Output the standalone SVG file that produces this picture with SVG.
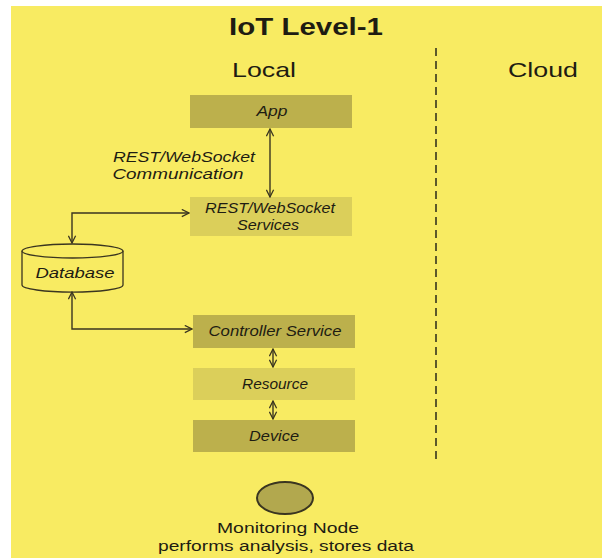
<svg xmlns="http://www.w3.org/2000/svg" width="602" height="558" viewBox="0 0 602 558">
<defs>
<marker id="ah" viewBox="0 0 10 10" refX="9" refY="5" markerWidth="9" markerHeight="9" markerUnits="userSpaceOnUse" orient="auto-start-reverse">
<path d="M1,1 L9,5 L1,9" fill="none" stroke="#3a3520" stroke-width="1.4"/>
</marker>
</defs>
<style>
.t{font-family:"Liberation Sans",Arial,sans-serif;fill:#1e1c12;}
.h{font-weight:bold;font-size:23px;text-anchor:middle;}
.s{font-size:21px;text-anchor:middle;}
.i{font-style:italic;font-size:15px;text-anchor:middle;}
.b{font-size:15.5px;text-anchor:middle;}
.dk{fill:#bcb04c;}
.lt{fill:#dbcf5a;}
.c{fill:none;stroke:#3a3520;stroke-width:1.4;}
</style>
<rect x="0" y="0" width="602" height="558" fill="#ffffff"/>
<rect x="11" y="6" width="591" height="552" fill="#f8eb62"/>
<text class="t h" x="306" y="35" textLength="154" lengthAdjust="spacingAndGlyphs">IoT Level-1</text>
<text class="t s" x="264" y="77" textLength="64" lengthAdjust="spacingAndGlyphs">Local</text>
<text class="t s" x="543" y="77" textLength="70" lengthAdjust="spacingAndGlyphs">Cloud</text>
<line x1="436" y1="48" x2="436" y2="460" stroke="#2a2a1a" stroke-width="1.5" stroke-dasharray="8,5"/>
<g id="app"><rect class="dk" x="190" y="95" width="162" height="33"/><text class="t i" x="272" y="116" textLength="31" lengthAdjust="spacingAndGlyphs">App</text></g>
<g id="services"><rect class="lt" x="190" y="197" width="162" height="39"/><text class="t i" x="270" y="213" textLength="130" lengthAdjust="spacingAndGlyphs">REST/WebSocket</text><text class="t i" x="268" y="230" textLength="62" lengthAdjust="spacingAndGlyphs">Services</text></g>
<g id="database">
<path d="M22,251 L22,285 A50,7 0 0 0 123,285 L123,251" fill="#f8eb62" stroke="#3a3520" stroke-width="1.3"/>
<ellipse cx="72.5" cy="251" rx="50.5" ry="7" fill="#f8eb62" stroke="#3a3520" stroke-width="1.3"/>
<text class="t i" x="75" y="278" textLength="79" lengthAdjust="spacingAndGlyphs">Database</text>
</g>
<g id="controller"><rect class="dk" x="193" y="315" width="162" height="33"/><text class="t i" x="275" y="336" textLength="133" lengthAdjust="spacingAndGlyphs">Controller Service</text></g>
<g id="resource"><rect class="lt" x="193" y="368" width="162" height="32"/><text class="t i" x="275" y="389" textLength="66" lengthAdjust="spacingAndGlyphs">Resource</text></g>
<g id="device"><rect class="dk" x="193" y="420" width="162" height="32"/><text class="t i" x="274" y="441" textLength="50" lengthAdjust="spacingAndGlyphs">Device</text></g>
<g id="monitoring"><ellipse cx="285" cy="498" rx="28" ry="16" fill="#b2a84e" stroke="#3a3520" stroke-width="2"/>
<text class="t b" x="288" y="533" textLength="142" lengthAdjust="spacingAndGlyphs">Monitoring Node</text>
<text class="t b" x="286" y="551" textLength="256" lengthAdjust="spacingAndGlyphs">performs analysis, stores data</text></g>
<g id="connectors">
<line class="c" x1="270" y1="129" x2="270" y2="197" marker-start="url(#ah)" marker-end="url(#ah)"/>
<text class="t i" x="184" y="162" textLength="142" lengthAdjust="spacingAndGlyphs">REST/WebSocket</text>
<text class="t i" x="178" y="179" textLength="131" lengthAdjust="spacingAndGlyphs">Communication</text>
<polyline class="c" points="72,243 72,213 189,213" marker-start="url(#ah)" marker-end="url(#ah)"/>
<polyline class="c" points="72,292 72,329 192,329" marker-start="url(#ah)" marker-end="url(#ah)"/>
<line class="c" x1="273" y1="349" x2="273" y2="367" marker-start="url(#ah)" marker-end="url(#ah)"/>
<line class="c" x1="273" y1="401" x2="273" y2="419" marker-start="url(#ah)" marker-end="url(#ah)"/>
</g>
</svg>
